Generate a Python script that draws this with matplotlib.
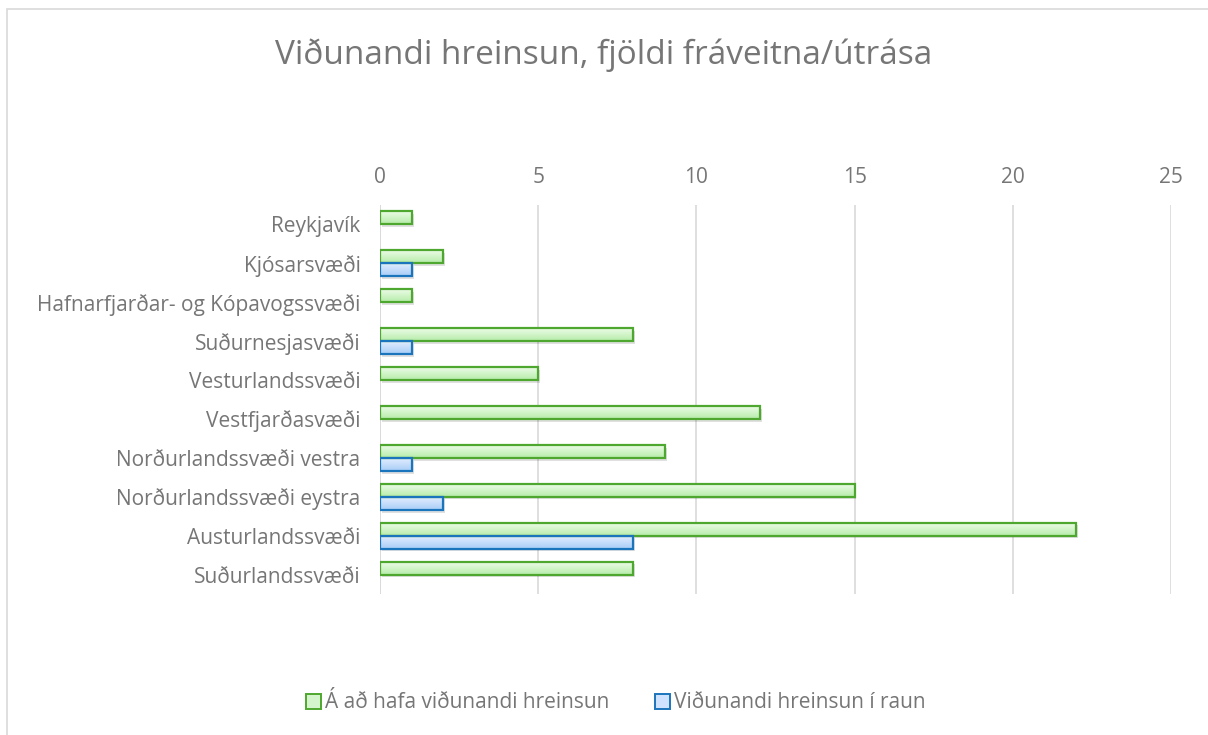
import matplotlib
matplotlib.use("Agg")
import matplotlib.pyplot as plt
import numpy as np
from matplotlib.patches import Patch, Rectangle
from matplotlib.colors import LinearSegmentedColormap

plt.rcParams['font.family'] = ['Open Sans', 'DejaVu Sans']

regions = ["Reykjavík", "Kjósarsvæði", "Hafnarfjarðar- og Kópavogssvæði",
           "Suðurnesjasvæði", "Vesturlandssvæði", "Vestfjarðasvæði",
           "Norðurlandssvæði vestra", "Norðurlandssvæði eystra",
           "Austurlandssvæði", "Suðurlandssvæði"]
should_have = [1, 2, 1, 8, 5, 12, 9, 15, 22, 8]
actual = [0, 1, 0, 1, 0, 0, 1, 2, 8, 0]
series_names = ["Á að hafa viðunandi hreinsun", "Viðunandi hreinsun í raun"]

txt = "#767676"
green_edge = "#4ea72e"
blue_edge = "#1b75bc"

fig = plt.figure(figsize=(12.08, 7.35), dpi=100)
ax = fig.add_axes([380 / 1208, 1 - 594 / 735, (1171 - 380) / 1208, (594 - 205) / 735])

# outer frame of the chart
fig.patches.append(Rectangle((7 / 1208, -0.01), 1.2, 1 - 9 / 735 + 0.01,
                             transform=fig.transFigure, fill=False,
                             edgecolor="#d9d9d9", linewidth=1.2))

y = np.arange(len(regions))
h = 0.335


def grad_bar(ax, x0, width, yc, height, c_top, c_bot, edge):
    if width <= 0:
        return
    grad = np.linspace(0, 1, 50).reshape(-1, 1)
    cmap = LinearSegmentedColormap.from_list("g", [c_top, c_bot])
    # shadow
    ax.add_patch(Rectangle((x0 + 0.06, yc - height / 2 + 0.07), width, height,
                           facecolor="#000000", alpha=0.12, edgecolor="none", zorder=2))
    ax.imshow(grad, extent=(x0, x0 + width, yc + height / 2, yc - height / 2),
              cmap=cmap, aspect="auto", zorder=3, interpolation="bicubic")
    ax.add_patch(Rectangle((x0, yc - height / 2), width, height, facecolor="none",
                           edgecolor=edge, linewidth=1.6, zorder=4))


for i in range(len(regions)):
    grad_bar(ax, 0, should_have[i], y[i] - h / 2, h, "#f0fdec", "#b6ecaa", green_edge)
    grad_bar(ax, 0, actual[i], y[i] + h / 2, h, "#e6f0ff", "#a9cdf7", blue_edge)

ax.set_xlim(0, 25)
ax.set_ylim(len(regions) - 0.5, -0.5)
ax.set_xticks(range(0, 26, 5))
ax.set_yticks(y)
ax.set_yticklabels(regions)
ax.xaxis.tick_top()
ax.tick_params(axis="both", length=0, colors=txt, labelsize=15)
ax.tick_params(axis="x", pad=12)
ax.tick_params(axis="y", pad=14)
ax.grid(axis="x", color="#d9d9d9", linewidth=1.2)
ax.set_axisbelow(True)
for s in ax.spines.values():
    s.set_visible(False)
ax.axvline(0, color="#d9d9d9", linewidth=1.2, zorder=1)

fig.text(0.5, 1 - 55 / 735, "Viðunandi hreinsun, fjöldi fráveitna/útrása",
         ha="center", va="center", fontsize=24, color=txt)

handles = [Patch(facecolor="#d4f5cc", edgecolor=green_edge, linewidth=1.4),
           Patch(facecolor="#cfe2ff", edgecolor=blue_edge, linewidth=1.4)]
fig.legend(handles, series_names, loc="center", bbox_to_anchor=(0.51, 1 - 703 / 735),
           ncol=2, frameon=False, fontsize=15, labelcolor=txt, handlelength=0.7,
           handleheight=0.7, handletextpad=0.2, columnspacing=2.2)

fig.savefig("out.png", dpi=100)
